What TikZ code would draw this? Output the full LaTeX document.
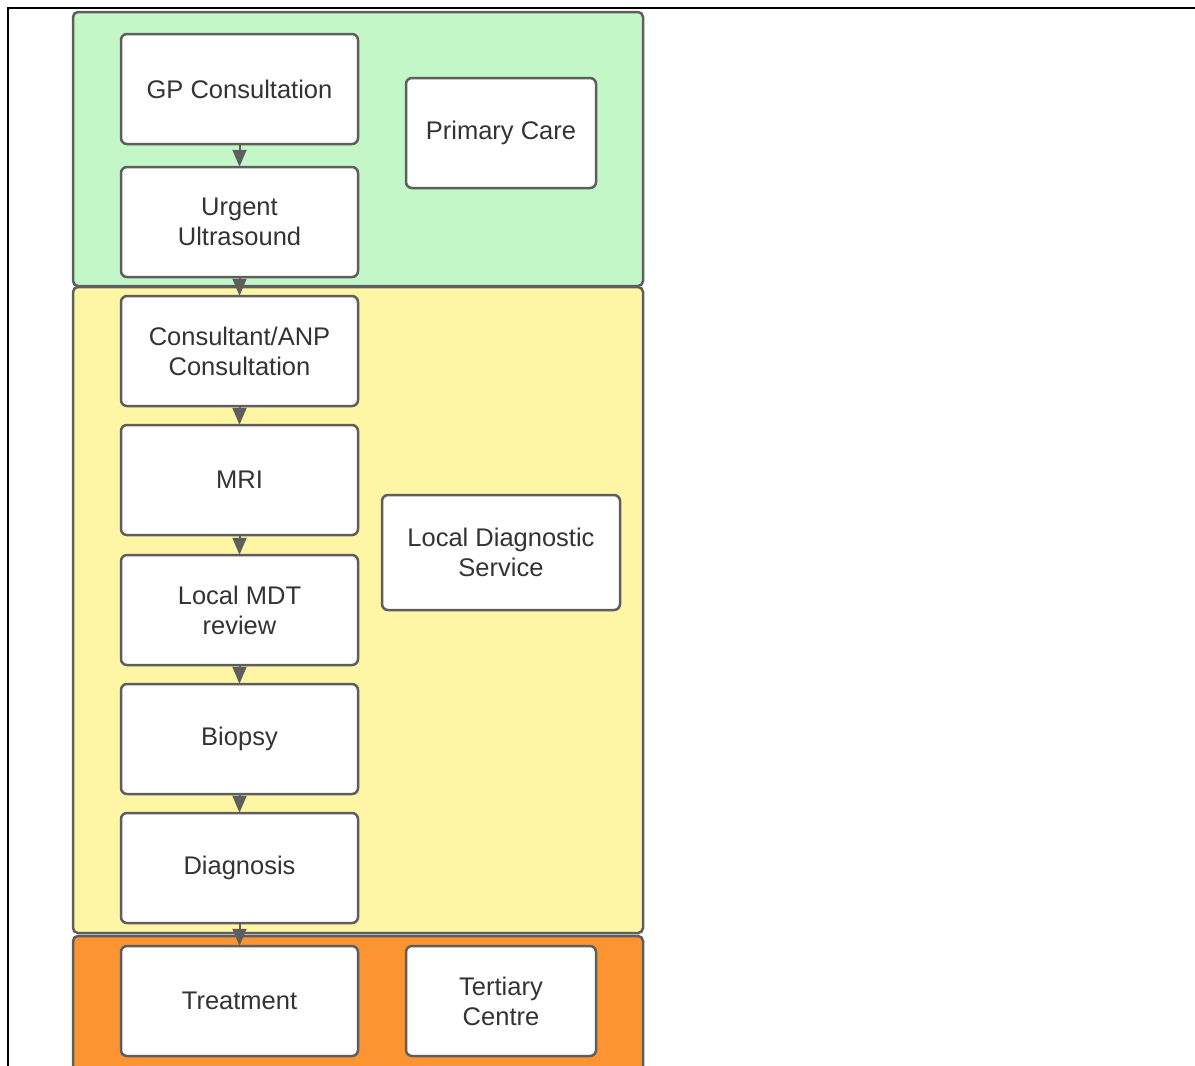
\documentclass[tikz,border=0pt]{standalone}
\usepackage{fontspec}
\setmainfont{Liberation Sans}
\usetikzlibrary{arrows.meta}
\definecolor{edgegray}{RGB}{94,94,94}
\definecolor{textgray}{RGB}{51,51,51}
\definecolor{careGreen}{RGB}{195,247,200}
\definecolor{diagYellow}{RGB}{255,246,165}
\definecolor{tertOrange}{RGB}{253,148,50}
\tikzset{
  band/.style={draw=edgegray, line width=2.5pt, rounded corners=5pt},
  stepbox/.style={draw=edgegray, fill=white, line width=2.5pt, rounded corners=6pt,
    minimum width=237pt, minimum height=110pt, inner sep=0pt, align=center,
    text=textgray, font=\fontsize{25.5}{30}\selectfont},
  flow/.style={draw=edgegray, line width=2pt, -{Triangle[width=14pt,length=17pt]}, shorten >=-1pt},
}
\begin{document}
\begin{tikzpicture}[x=1pt,y=1pt,yscale=-1]
        \useasboundingbox (0,0) rectangle (1195,1066);
        % outer frame
        \draw [line width=2pt]   (8,1080) -- (8,7.5) -- (1210,7.5) ;
        % bands
        \draw [band, fill=careGreen]   (73,12) rectangle (643,286) ;
        \draw [band, fill=diagYellow]   (73,287) rectangle (643,933) ;
        \draw [band, fill=tertOrange]   (73,936) rectangle (643,1090) ;
        % left column
        \node [stepbox] (gp) at (239.5,89) {GP Consultation};
        \node [stepbox] (us) at (239.5,222) {Urgent\\Ultrasound};
        \node [stepbox] (anp) at (239.5,351) {Consultant/ANP\\Consultation};
        \node [stepbox] (mri) at (239.5,480) {MRI};
        \node [stepbox] (mdt) at (239.5,610) {Local MDT\\review};
        \node [stepbox] (bio) at (239.5,739) {Biopsy};
        \node [stepbox] (diag) at (239.5,868) {Diagnosis};
        \node [stepbox] (treat) at (239.5,1001) {Treatment};
        % right column
        \node [stepbox, minimum width=190pt] (primary) at (501,133) {Primary Care};
        \node [stepbox, minimum width=238pt, minimum height=115pt] (lds) at (501,552.5) {Local Diagnostic\\Service};
        \node [stepbox, minimum width=190pt] (tert) at (501,1001) {Tertiary\\Centre};
        % arrows
        \draw [flow] (gp) -- (us) ;
        \draw [flow] (us) -- (anp) ;
        \draw [flow] (anp) -- (mri) ;
        \draw [flow] (mri) -- (mdt) ;
        \draw [flow] (mdt) -- (bio) ;
        \draw [flow] (bio) -- (diag) ;
        \draw [flow] (diag) -- (treat) ;
\end{tikzpicture}
\end{document}
